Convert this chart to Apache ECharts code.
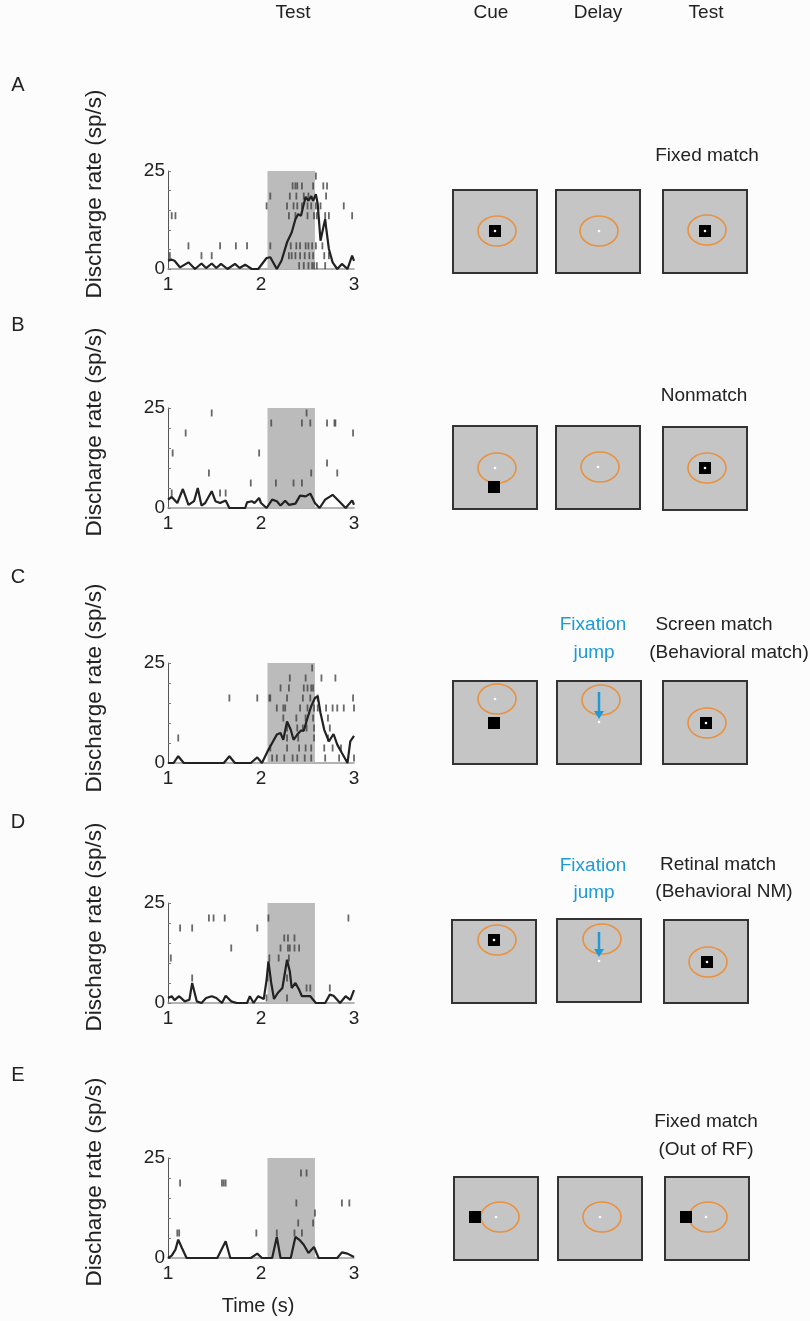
<!DOCTYPE html>
<html>
<head>
<meta charset="utf-8">
<script src="https://cdn.jsdelivr.net/npm/echarts@6/dist/echarts.min.js"></script>
<style>
  * { margin: 0; padding: 0; }
  body { background: #fcfcfd; }
  #chart { width: 810px; height: 1321px; }
</style>
</head>
<body>
<div id="chart"></div>
<script>
// test period shading (s)
const testWindow = [2.07, 2.58];

// PSTH curves: [time (s), rate (sp/s)]
const lineA = [[1,2.1],[1.036,2.4],[1.07,2.1],[1.13,0.4],[1.22,1.7],[1.29,0],[1.36,1.4],[1.41,0.25],[1.47,1.4],[1.52,0.25],[1.57,1.3],[1.64,0],[1.72,1.3],[1.77,0.25],[1.83,1.1],[1.9,0],[1.97,0],[2.06,2.8],[2.1,3.0],[2.17,0],[2.22,2.1],[2.28,6.8],[2.33,9.3],[2.37,12.7],[2.4,14],[2.43,13.6],[2.46,16.5],[2.48,18.4],[2.51,17.4],[2.54,18.6],[2.56,17.4],[2.59,19.1],[2.61,16.5],[2.64,7.2],[2.67,10.6],[2.69,12.7],[2.7,10.6],[2.73,5.1],[2.77,1.7],[2.82,0],[2.87,1.3],[2.93,0],[2.98,3.4],[3,2.1]];
const lineB = [[1,2.1],[1.04,2.75],[1.1,1.25],[1.16,4.75],[1.22,0.8],[1.28,1.7],[1.32,5],[1.36,0.6],[1.4,1.25],[1.47,4.2],[1.51,1.7],[1.56,1.25],[1.62,1.9],[1.66,0],[1.74,0],[1.83,0],[1.85,1.4],[1.9,1.7],[1.93,1.25],[1.98,2.5],[2.0,1.25],[2.06,0],[2.12,2.1],[2.17,1.7],[2.21,0.6],[2.26,1.8],[2.3,0.8],[2.37,1.1],[2.42,3.1],[2.48,2.9],[2.53,3.6],[2.58,1.25],[2.63,0],[2.69,2.1],[2.77,3.3],[2.84,1.7],[2.91,0],[2.98,1.9],[3,0.8]];
const lineC = [[1,0],[1.06,0],[1.11,1.7],[1.17,0],[1.6,0],[1.66,1.7],[1.72,0],[1.89,0],[1.96,1.4],[2.01,0],[2.07,2.9],[2.12,5],[2.17,7.1],[2.21,7.5],[2.24,5.8],[2.28,10.4],[2.32,8.3],[2.35,5.8],[2.39,7.1],[2.43,8.1],[2.46,8.1],[2.5,11.25],[2.54,14.2],[2.58,16.25],[2.61,16.7],[2.64,12.5],[2.68,8.3],[2.73,5.4],[2.78,7.25],[2.82,4.6],[2.87,2.5],[2.93,0],[2.96,5.4],[3,6.8]];
const lineD = [[1,1.25],[1.04,1.7],[1.07,0.7],[1.12,1.7],[1.18,0.4],[1.23,0.8],[1.26,5],[1.31,0.4],[1.36,0],[1.41,1.25],[1.47,1.7],[1.52,1.25],[1.58,0],[1.62,1.8],[1.68,0.4],[1.74,0],[1.85,0],[1.88,1.7],[1.92,0],[1.97,1.7],[2.03,1],[2.06,5.8],[2.08,10.4],[2.11,5],[2.14,1],[2.18,2.5],[2.23,3.75],[2.28,10.8],[2.31,7.9],[2.33,3.75],[2.37,5],[2.41,3.3],[2.44,1.7],[2.53,1.7],[2.59,0],[2.69,0],[2.74,2.1],[2.78,1.8],[2.85,0],[2.91,1.7],[2.96,0.8],[3,3.2]];
const lineE = [[1,0],[1.04,0.6],[1.08,2.1],[1.11,4.6],[1.15,2.5],[1.2,0],[1.53,0],[1.62,4.2],[1.67,0],[1.89,0],[1.96,1.1],[2.01,0],[2.12,0],[2.17,5.25],[2.21,0],[2.32,0],[2.37,5.25],[2.41,4.6],[2.46,3.3],[2.51,1.25],[2.57,2.75],[2.62,0],[2.82,0],[2.87,1.4],[2.93,1.1],[3,0.25]];

// spike rasters: [row level (sp/s axis), spike times (s)]
const rasterA = [
  [23.7, [2.59]],
  [21.2, [2.34, 2.37, 2.39, 2.44, 2.56, 2.67, 2.71]],
  [18.6, [2.1, 2.31, 2.38, 2.46, 2.51, 2.7]],
  [16.1, [2.06, 2.28, 2.35, 2.39, 2.44, 2.5, 2.54, 2.59, 2.64, 2.89, 3.01]],
  [13.6, [1.04, 1.08, 2.3, 2.37, 2.5, 2.57, 2.6, 2.69, 2.73, 2.98]],
  [5.9, [1.22, 1.56, 1.73, 1.85, 2.1, 2.32, 2.38, 2.42, 2.48, 2.51, 2.55, 2.59, 2.66]],
  [3.4, [1.02, 1.36, 1.47, 2.3, 2.33, 2.37, 2.42, 2.47, 2.52, 2.56, 2.68, 2.73]],
  [0.85, [2.41, 2.46, 2.51, 2.55, 2.57, 2.6, 2.69]]
];
const rasterB = [
  [23.75, [1.47, 2.49]],
  [21.25, [2.11, 2.44, 2.53, 2.71, 2.79, 2.8]],
  [18.75, [1.19, 2.99]],
  [13.75, [1.05, 1.98]],
  [11.25, [2.71]],
  [8.75, [1.44, 2.54, 2.82]],
  [6.25, [1.89, 2.16, 2.35, 2.44]],
  [3.75, [1.04, 1.56, 1.62]]
];
const rasterC = [
  [23.75, [2.55]],
  [21.25, [2.31, 2.48, 2.65, 2.8]],
  [18.75, [2.21, 2.3, 2.46, 2.5, 2.54, 2.56]],
  [16.25, [1.66, 1.96, 2.09, 2.1, 2.28, 2.45, 2.53, 2.61, 2.99]],
  [13.75, [2.17, 2.24, 2.26, 2.42, 2.5, 2.57, 2.61, 2.7, 2.77, 2.82, 2.89, 3.0]],
  [11.25, [2.24, 2.38, 2.48, 2.56, 2.72]],
  [8.75, [2.28, 2.39, 2.45, 2.49, 2.57, 2.74]],
  [6.25, [1.11, 2.28, 2.4, 2.57, 2.72]],
  [3.75, [2.1, 2.28, 2.41, 2.48, 2.54, 2.68, 2.77, 2.86]],
  [1.25, [2.12, 2.17, 2.25, 2.34, 2.39, 2.47, 2.54, 2.69, 2.84, 3.0]]
];
const rasterD = [
  [21.25, [1.44, 1.49, 1.61, 2.08, 2.94]],
  [18.75, [1.13, 1.26, 1.96]],
  [16.25, [2.25, 2.29, 2.36]],
  [13.75, [1.68, 2.21, 2.29, 2.31, 2.36, 2.41]],
  [11.25, [1.03, 2.09, 2.19, 2.3]],
  [6.25, [1.26, 2.07, 2.28]],
  [3.75, [2.49, 2.53, 2.74]],
  [1.25, [2.06, 2.28]]
];
const rasterE = [
  [21.25, [2.43, 2.49]],
  [18.75, [1.13, 1.58, 1.6, 1.62]],
  [13.75, [2.38, 2.87, 2.95]],
  [11.25, [2.58]],
  [8.75, [2.4, 2.56]],
  [6.25, [1.1, 1.12, 1.95, 2.17, 2.36, 2.44]]
];

const lines = [lineA, lineB, lineC, lineD, lineE];
const rasters = [rasterA, rasterB, rasterC, rasterD, rasterE];
const panelLetters = ["A", "B", "C", "D", "E"];
const xTicks = [1, 2, 3];

// layout
const gridTops = [171, 408, 663, 903, 1158];
const gridHeights = [98, 100, 100, 100, 100];
const FONT = "Liberation Sans, Arial, Helvetica, sans-serif";
const INK = "#222";
const BLUE = "#1e9ad6";

const grids = [], xAxes = [], yAxes = [], series = [];
lines.forEach((ln, i) => {
  grids.push({ left: 168, width: 186, top: gridTops[i], height: gridHeights[i] });
  xAxes.push({
    gridIndex: i, type: "value", min: xTicks[0], max: xTicks[2], interval: 1,
    axisLine: { lineStyle: { color: "#9a9a9a", width: 1.5 } },
    axisTick: { show: false },
    splitLine: { show: false },
    axisLabel: { fontSize: 19, color: INK, fontFamily: FONT, margin: 6 }
  });
  yAxes.push({
    gridIndex: i, type: "value", min: 0, max: 25, interval: 25,
    axisLine: { show: true, lineStyle: { color: "#555", width: 1 } },
    axisTick: { show: true, inside: true, length: 3, lineStyle: { color: "#777" } },
    minorTick: { show: true, splitNumber: 5, length: 3, lineStyle: { color: "#777" } },
    splitLine: { show: false },
    axisLabel: { fontSize: 19, color: INK, fontFamily: FONT, margin: 3 }
  });
  const spikes = [];
  rasters[i].forEach(([level, times]) => times.forEach(t => spikes.push([t, level])));
  series.push({
    type: "scatter", xAxisIndex: i, yAxisIndex: i, silent: true,
    symbol: "rect", symbolSize: [1.8, 7],
    itemStyle: { color: "#444" },
    data: spikes, z: 3,
    markArea: {
      silent: true,
      itemStyle: { color: "#bbbbbb" },
      data: [[{ coord: [testWindow[0], 0] }, { coord: [testWindow[1], 25] }]]
    }
  });
  series.push({
    type: "line", xAxisIndex: i, yAxisIndex: i, silent: true,
    showSymbol: false, smooth: false,
    lineStyle: { color: INK, width: 2.2 },
    data: ln, z: 4
  });
});

// decorative schematic pieces
const graphic = [];
function txt(x, y, s, size, color, extra) {
  graphic.push(Object.assign({
    type: "text", x, y,
    style: { text: s, fontSize: size, fontFamily: FONT, fill: color || INK, align: "center", verticalAlign: "middle" }
  }, extra || {}));
}
function box(x, y) {
  graphic.push({ type: "rect", shape: { x, y, width: 84, height: 83 },
    style: { fill: "#c5c5c5", stroke: "#333", lineWidth: 2 } });
}
function ell(cx, cy) {
  graphic.push({ type: "ellipse", shape: { cx, cy, rx: 19, ry: 15 },
    style: { fill: null, stroke: "#e8913f", lineWidth: 1.6 } });
}
function sq(cx, cy) {
  graphic.push({ type: "rect", shape: { x: cx - 6, y: cy - 6, width: 12, height: 12 }, style: { fill: "#000" } });
}
function dot(cx, cy) {
  graphic.push({ type: "circle", shape: { cx, cy, r: 1.3 }, style: { fill: "#fff" } });
}
function arrow(x, y1, y2) {
  graphic.push({ type: "line", shape: { x1: x, y1, x2: x, y2: y2 - 6 }, style: { stroke: BLUE, lineWidth: 2.5 } });
  graphic.push({ type: "polygon", shape: { points: [[x - 5, y2 - 8], [x + 5, y2 - 8], [x, y2]] }, style: { fill: BLUE } });
}

// headers
txt(293, 13, "Test", 19);
txt(491, 13, "Cue", 19);
txt(598, 13, "Delay", 19);
txt(706, 13, "Test", 19);
txt(258, 1306, "Time (s)", 20);

const letterY = [85, 325, 577, 822, 1075];
const ylabelY = [194, 432, 688, 927, 1182];
panelLetters.forEach((l, i) => {
  txt(18, letterY[i], l, 20);
  txt(95, ylabelY[i], "Discharge rate (sp/s)", 22.5, INK, { rotation: Math.PI / 2 });
});

// A
txt(707, 156, "Fixed match", 19);
box(453, 190); box(556, 190); box(663, 190);
ell(497, 231); sq(495, 231); dot(495, 231);
ell(599, 231); dot(599, 231);
ell(707, 230); sq(705, 231); dot(705, 231);
// B
txt(704, 396, "Nonmatch", 19);
box(453, 426); box(556, 426); box(663, 427);
ell(497, 468); sq(494, 487); dot(495, 468);
ell(600, 467); dot(598, 467);
ell(707, 468); sq(705, 468); dot(705, 468);
// C
txt(593, 625, "Fixation", 19, BLUE);
txt(594, 653, "jump", 19, BLUE);
txt(714, 625, "Screen match", 19);
txt(729, 653, "(Behavioral match)", 19);
box(453, 681); box(557, 681); box(663, 681);
ell(497, 699); sq(494, 723); dot(495, 699);
ell(601, 700); arrow(599, 692, 719); dot(599, 722);
ell(707, 723); sq(706, 723); dot(706, 723);
// D
txt(593, 866, "Fixation", 19, BLUE);
txt(594, 893, "jump", 19, BLUE);
txt(718, 865, "Retinal match", 19);
txt(724, 892, "(Behavioral NM)", 19);
box(452, 920); box(557, 919); box(664, 920);
ell(497, 940); sq(494, 940); dot(494, 940);
ell(602, 939); arrow(599, 932, 957); dot(599, 961);
ell(708, 962); sq(707, 962); dot(707, 962);
// E
txt(706, 1122, "Fixed match", 19);
txt(706, 1150, "(Out of RF)", 19);
box(454, 1177); box(558, 1177); box(665, 1177);
ell(500, 1217); sq(475, 1217); dot(496, 1217);
ell(602, 1217); dot(600, 1217);
ell(708, 1217); sq(686, 1217); dot(706, 1217);

const chart = echarts.init(document.getElementById("chart"), null, { renderer: "canvas" });
chart.setOption({
  backgroundColor: "#fcfcfd",
  animation: false,
  grid: grids,
  xAxis: xAxes,
  yAxis: yAxes,
  series: series,
  graphic: graphic
});
window.addEventListener("resize", chart.resize);
</script>
</body>
</html>
